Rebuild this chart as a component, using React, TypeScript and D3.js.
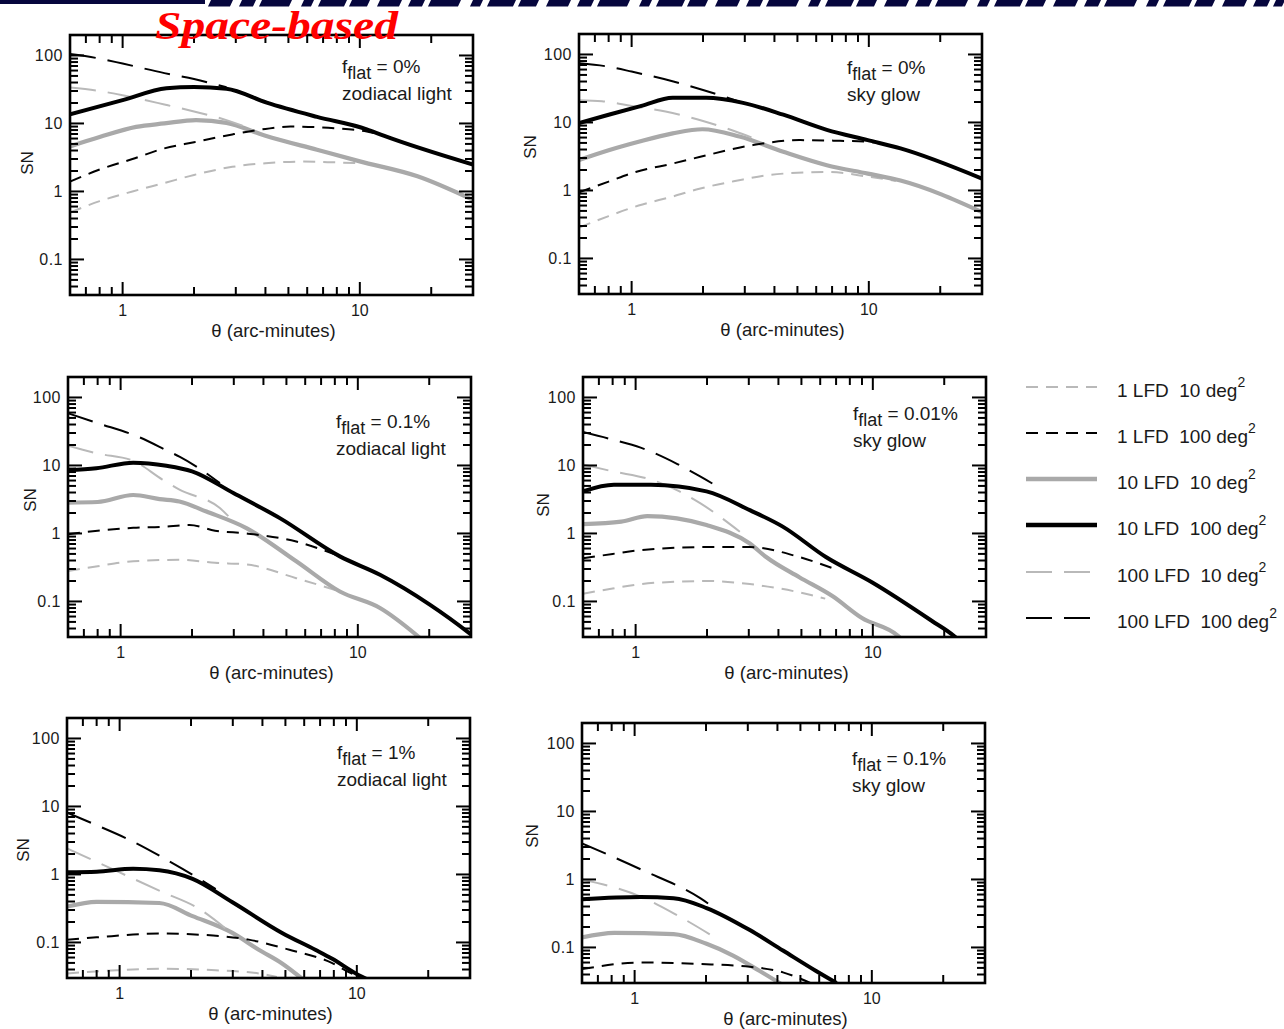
import React from "react";
import * as d3 from "d3";

// ---------- axes ----------
const THETA_DOMAIN: [number, number] = [0.6, 30];
const SN_DOMAIN: [number, number] = [0.03, 200];
const X_MAJOR = [1, 10];
const X_MAJOR_LABELS = ["1", "10"];
const X_MINOR = [0.7, 0.8, 0.9, 2, 3, 4, 5, 6, 7, 8, 9, 20, 30];
const Y_MAJOR = [0.1, 1, 10, 100];
const Y_MAJOR_LABELS = ["0.1", "1", "10", "100"];
const Y_MINOR = [0.03, 0.04, 0.05, 0.06, 0.07, 0.08, 0.09, 0.2, 0.3, 0.4, 0.5, 0.6, 0.7, 0.8, 0.9, 2, 3, 4, 5, 6, 7, 8, 9, 20, 30, 40, 50, 60, 70, 80, 90, 200];

// ---------- legend ----------
const SERIES_NAMES = ["1 LFD", "1 LFD", "10 LFD", "10 LFD", "100 LFD", "100 LFD"];
const SERIES_AREAS = ["10 deg", "100 deg", "10 deg", "100 deg", "10 deg", "100 deg"];

// ---------- panel labels ----------
const FLAT_VALUES = ["0%", "0%", "0.1%", "0.01%", "1%", "0.1%"];
const SOURCES = ["zodiacal light", "sky glow", "zodiacal light", "sky glow", "zodiacal light", "sky glow"];

type Pt = [number, number];

// ---------- panel 1 : f_flat = 0%, zodiacal light ----------
const P1_L1_A10: Pt[] = [[0.6, 0.49], [0.8, 0.72], [1.1, 1.0], [1.5, 1.33], [2, 1.75], [2.9, 2.3], [4, 2.6], [5.6, 2.75], [7.8, 2.68], [10, 2.6]];
const P1_L1_A100: Pt[] = [[0.6, 1.4], [0.8, 2.1], [1.1, 3.0], [1.5, 4.3], [2, 5.3], [2.9, 6.9], [4, 8.3], [5.1, 9.0], [7.8, 8.5], [10.7, 7.6], [13, 6.5]];
const P1_L10_A10: Pt[] = [[0.6, 4.6], [0.8, 6.3], [1.14, 8.9], [1.5, 10], [2.04, 11.2], [2.74, 10.2], [4, 6.6], [6.6, 4.1], [10, 2.77], [17.5, 1.67], [30, 0.75]];
const P1_L10_A100: Pt[] = [[0.6, 13.6], [1, 22], [1.53, 33], [2, 34.5], [2.74, 32.5], [4.05, 20.2], [6.6, 12.5], [10.7, 8.2], [12.6, 6.6], [30, 2.48]];
const P1_L100_A10: Pt[] = [[0.6, 33.7], [0.8, 30], [1, 26], [1.5, 19], [2, 15], [2.74, 11.2], [3.2, 9.3]];
const P1_L100_A100: Pt[] = [[0.6, 105], [0.8, 90], [1, 76], [1.5, 55], [2, 45], [2.74, 34]];

// ---------- panel 2 : f_flat = 0%, sky glow ----------
const P2_L1_A10: Pt[] = [[0.6, 0.285], [0.8, 0.42], [1.07, 0.6], [1.5, 0.82], [1.93, 1.06], [2.8, 1.4], [3.7, 1.67], [5, 1.82], [6.65, 1.87], [9.9, 1.6], [13, 1.38]];
const P2_L1_A100: Pt[] = [[0.6, 0.94], [0.8, 1.35], [1.04, 1.87], [1.5, 2.5], [1.93, 3.1], [3.25, 4.65], [5.1, 5.5], [7.1, 5.4], [9.9, 5.2], [11, 5.0]];
const P2_L10_A10: Pt[] = [[0.6, 2.8], [0.8, 3.9], [1.07, 5.2], [1.49, 6.9], [1.99, 7.95], [2.85, 6.2], [4.36, 3.7], [6.65, 2.35], [9.9, 1.77], [13.6, 1.4], [30, 0.48]];
const P2_L10_A100: Pt[] = [[0.6, 9.8], [0.8, 13], [1.1, 17.5], [1.49, 23], [2.06, 23], [2.95, 19.4], [4.36, 13], [6.65, 7.8], [9.9, 5.5], [13.6, 4.15], [30, 1.49]];
const P2_L100_A10: Pt[] = [[0.6, 21.2], [0.75, 20.5], [1, 17.5], [1.39, 14.5], [2, 10.5], [2.85, 7.0], [3.2, 6.0]];
const P2_L100_A100: Pt[] = [[0.6, 74], [0.8, 66], [1, 56], [1.5, 40], [2, 30], [2.95, 19.4]];

// ---------- panel 3 : f_flat = 0.1%, zodiacal light ----------
const P3_L1_A10: Pt[] = [[0.6, 0.28], [0.8, 0.33], [1.13, 0.39], [1.77, 0.41], [2.5, 0.37], [3.39, 0.35], [5.5, 0.22], [8.4, 0.14]];
const P3_L1_A100: Pt[] = [[0.6, 0.97], [0.8, 1.1], [1.13, 1.21], [1.5, 1.25], [1.95, 1.33], [2.5, 1.1], [3.39, 1.0], [5.5, 0.76], [8.4, 0.46]];
const P3_L10_A10: Pt[] = [[0.6, 2.84], [0.8, 2.9], [1.13, 3.68], [1.46, 3.2], [1.77, 2.95], [2.3, 2.1], [3.39, 1.2], [5.5, 0.39], [8.4, 0.14], [12.4, 0.08], [18.3, 0.029]];
const P3_L10_A100: Pt[] = [[0.6, 8.5], [0.79, 9.1], [1.13, 11], [1.56, 9.9], [2, 8.2], [3, 3.9], [4.69, 1.68], [8.4, 0.46], [12.4, 0.247], [20.1, 0.09], [29.6, 0.034], [31, 0.03]];
const P3_L100_A10: Pt[] = [[0.6, 19.5], [0.8, 15], [1.13, 11.7], [1.5, 6.2], [1.77, 4.4], [2.62, 2.36], [2.9, 1.68]];
const P3_L100_A100: Pt[] = [[0.6, 58.6], [0.8, 42], [1.2, 26], [1.6, 16], [1.77, 13.5], [2.15, 9], [2.62, 5.5]];

// ---------- panel 4 : f_flat = 0.01%, sky glow ----------
const P4_L1_A10: Pt[] = [[0.6, 0.13], [0.8, 0.155], [1.05, 0.18], [1.5, 0.195], [1.99, 0.2], [3.03, 0.18], [4.9, 0.136], [6.3, 0.11]];
const P4_L1_A100: Pt[] = [[0.6, 0.43], [0.8, 0.5], [1.05, 0.57], [1.99, 0.63], [3.03, 0.63], [4.9, 0.45], [6.75, 0.31]];
const P4_L10_A10: Pt[] = [[0.6, 1.37], [0.87, 1.49], [1.12, 1.8], [1.99, 1.33], [3.03, 0.71], [3.55, 0.45], [4.9, 0.227], [6.75, 0.12], [9.0, 0.057], [12.8, 0.031], [13.2, 0.028]];
const P4_L10_A100: Pt[] = [[0.6, 4.16], [0.81, 5.2], [1.16, 5.2], [1.99, 4.16], [3.03, 2.2], [4.17, 1.26], [6.34, 0.45], [9.95, 0.19], [17.7, 0.052], [22, 0.031], [23, 0.027]];
const P4_L100_A10: Pt[] = [[0.6, 10.3], [0.8, 8.2], [1.16, 6.2], [1.5, 4.3], [1.87, 2.79], [2.75, 1.06]];
const P4_L100_A100: Pt[] = [[0.6, 31], [0.8, 24], [1.05, 18.3], [1.5, 10.5], [1.87, 6.9], [2.27, 4.65]];

// ---------- panel 5 : f_flat = 1%, zodiacal light ----------
const P5_L1_A10: Pt[] = [[0.6, 0.035], [0.97, 0.039], [1.57, 0.041], [2.54, 0.039], [3.86, 0.035], [4.6, 0.031]];
const P5_L1_A100: Pt[] = [[0.6, 0.11], [0.8, 0.119], [1.47, 0.135], [2.17, 0.13], [3.5, 0.11], [5.2, 0.078], [7.84, 0.05], [9.2, 0.037], [10, 0.032]];
const P5_L10_A10: Pt[] = [[0.6, 0.337], [0.8, 0.396], [1.47, 0.38], [2.03, 0.244], [2.99, 0.138], [3.86, 0.078], [4.84, 0.049], [5.9, 0.029]];
const P5_L10_A100: Pt[] = [[0.6, 1.08], [0.8, 1.1], [1.14, 1.21], [1.47, 1.15], [2.03, 0.86], [2.99, 0.39], [4.84, 0.138], [6.68, 0.078], [7.84, 0.058], [10.2, 0.033], [11, 0.029]];
const P5_L100_A10: Pt[] = [[0.6, 2.42], [1, 1.07], [1.5, 0.56], [2.17, 0.31], [2.8, 0.16]];
const P5_L100_A100: Pt[] = [[0.6, 8.1], [0.8, 5.3], [1.14, 3.04], [1.6, 1.6], [2.17, 0.86], [2.54, 0.61]];

// ---------- panel 6 : f_flat = 0.1%, sky glow ----------
const P6_L1_A10: Pt[] = [];
const P6_L1_A100: Pt[] = [[0.6, 0.048], [1.06, 0.06], [1.89, 0.057], [3.06, 0.052], [4.22, 0.043], [5.5, 0.03]];
const P6_L10_A10: Pt[] = [[0.6, 0.14], [0.82, 0.164], [1.46, 0.157], [2.01, 0.113], [2.6, 0.076], [3.37, 0.045], [4.15, 0.029]];
const P6_L10_A100: Pt[] = [[0.6, 0.51], [1.06, 0.55], [1.46, 0.53], [2.01, 0.38], [3.06, 0.18], [4.22, 0.09], [5.82, 0.045], [7.1, 0.03]];
const P6_L100_A10: Pt[] = [[0.6, 1.0], [1.06, 0.56], [1.46, 0.318], [2.22, 0.135]];
const P6_L100_A100: Pt[] = [[0.6, 3.4], [1.06, 1.41], [1.89, 0.53], [2.22, 0.36]];

const PANEL_SERIES: Pt[][][] = [
  [P1_L1_A10, P1_L1_A100, P1_L10_A10, P1_L10_A100, P1_L100_A10, P1_L100_A100],
  [P2_L1_A10, P2_L1_A100, P2_L10_A10, P2_L10_A100, P2_L100_A10, P2_L100_A100],
  [P3_L1_A10, P3_L1_A100, P3_L10_A10, P3_L10_A100, P3_L100_A10, P3_L100_A100],
  [P4_L1_A10, P4_L1_A100, P4_L10_A10, P4_L10_A100, P4_L100_A10, P4_L100_A100],
  [P5_L1_A10, P5_L1_A100, P5_L10_A10, P5_L10_A100, P5_L100_A10, P5_L100_A100],
  [P6_L1_A10, P6_L1_A100, P6_L10_A10, P6_L10_A100, P6_L100_A10, P6_L100_A100],
];

// ---------- styles & layout ----------
const LIGHT = "#b9b9b9";
const MID = "#a9a9a9";
const STYLES = [
  { stroke: LIGHT, width: 2, dash: "12 8" },
  { stroke: "#000", width: 2, dash: "12 8" },
  { stroke: MID, width: 4.2, dash: "" },
  { stroke: "#000", width: 4, dash: "" },
  { stroke: LIGHT, width: 2, dash: "26 12" },
  { stroke: "#000", width: 2, dash: "26 12" },
];
const DRAW_ORDER = [0, 2, 4, 1, 5, 3];

const PW = 403;
const PH = 260;
const LAYOUT = [
  { left: 70, top: 35, annDx: 272, annDy: 38, snX: 27, snY: 163 },
  { left: 579, top: 34, annDx: 268, annDy: 40, snX: 530, snY: 147 },
  { left: 68, top: 377, annDx: 268, annDy: 51, snX: 30, snY: 500 },
  { left: 583, top: 377, annDx: 270, annDy: 43, snX: 543, snY: 505 },
  { left: 67, top: 718, annDx: 270, annDy: 41, snX: 23, snY: 850 },
  { left: 582, top: 723, annDx: 270, annDy: 42, snX: 532, snY: 836 },
];

const FONT = "'Liberation Sans', Arial, Helvetica, sans-serif";
const TXT = "#1a1a1a";

function Panel({ idx }: { idx: number }) {
  const L = LAYOUT[idx];
  const x = d3.scaleLog().domain(THETA_DOMAIN).range([0, PW]);
  const y = d3.scaleLog().domain(SN_DOMAIN).range([PH, 0]);
  const line = d3
    .line<Pt>()
    .x((d) => x(d[0]))
    .y((d) => y(d[1]))
    .curve(d3.curveMonotoneX);
  const clipId = `clip-${idx}`;
  const series = PANEL_SERIES[idx];
  return (
    <g transform={`translate(${L.left},${L.top})`}>
      <defs>
        <clipPath id={clipId}>
          <rect x={0} y={0} width={PW} height={PH} />
        </clipPath>
      </defs>
      <g clipPath={`url(#${clipId})`}>
        {DRAW_ORDER.map((si) =>
          series[si].length ? (
            <path
              key={si}
              d={line(series[si]) || ""}
              fill="none"
              stroke={STYLES[si].stroke}
              strokeWidth={STYLES[si].width}
              strokeDasharray={STYLES[si].dash || undefined}
              strokeLinejoin="round"
            />
          ) : null
        )}
      </g>
      {/* ticks */}
      <g stroke="#000" strokeWidth={2}>
        {X_MINOR.filter((v) => v <= THETA_DOMAIN[1]).map((v) => (
          <g key={"xm" + v}>
            <line x1={x(v)} x2={x(v)} y1={PH} y2={PH - 8} />
            <line x1={x(v)} x2={x(v)} y1={0} y2={8} />
          </g>
        ))}
        {X_MAJOR.map((v) => (
          <g key={"xM" + v}>
            <line x1={x(v)} x2={x(v)} y1={PH} y2={PH - 13} />
            <line x1={x(v)} x2={x(v)} y1={0} y2={13} />
          </g>
        ))}
        {Y_MINOR.filter((v) => v >= SN_DOMAIN[0] && v <= SN_DOMAIN[1]).map((v) => (
          <g key={"ym" + v}>
            <line x1={0} x2={8} y1={y(v)} y2={y(v)} />
            <line x1={PW} x2={PW - 8} y1={y(v)} y2={y(v)} />
          </g>
        ))}
        {Y_MAJOR.map((v) => (
          <g key={"yM" + v}>
            <line x1={0} x2={14} y1={y(v)} y2={y(v)} />
            <line x1={PW} x2={PW - 14} y1={y(v)} y2={y(v)} />
          </g>
        ))}
      </g>
      <rect x={0} y={0} width={PW} height={PH} fill="none" stroke="#000" strokeWidth={2.6} />
      {/* tick labels */}
      {X_MAJOR.map((v, i) => (
        <text key={"xl" + v} x={x(v)} y={PH + 21} textAnchor="middle" fontSize={16} fontFamily={FONT} fill={TXT}>
          {X_MAJOR_LABELS[i]}
        </text>
      ))}
      {Y_MAJOR.map((v, i) => (
        <text key={"yl" + v} x={-7} y={y(v) + 6} textAnchor="end" fontSize={16} fontFamily={FONT} fill={TXT} letterSpacing={0.5}>
          {Y_MAJOR_LABELS[i]}
        </text>
      ))}
      <text x={PW / 2 + 2} y={PH + 42} textAnchor="middle" fontSize={18.5} fontFamily={FONT} fill={TXT}>
        θ (arc-minutes)
      </text>
      {/* annotation */}
      <text x={L.annDx} y={L.annDy} fontSize={19} fontFamily={FONT} fill={TXT}>
        f
        <tspan dy={6} fontSize={18}>flat</tspan>
        <tspan dy={-6}>{" = " + FLAT_VALUES[idx]}</tspan>
      </text>
      <text x={L.annDx} y={L.annDy + 27} fontSize={19} fontFamily={FONT} fill={TXT}>
        {SOURCES[idx]}
      </text>
    </g>
  );
}

function Legend() {
  const x0 = 1026;
  const x1 = 1097;
  const ys = [387, 433, 479, 525, 572, 618];
  return (
    <g>
      {ys.map((yy, i) => (
        <g key={i}>
          <line
            x1={x0}
            x2={STYLES[i].dash === "26 12" ? 1090 : x1}
            y1={yy}
            y2={yy}
            stroke={STYLES[i].stroke}
            strokeWidth={STYLES[i].width === 2 ? 2 : 4.5}
            strokeDasharray={STYLES[i].dash || undefined}
          />
          <text x={1117} y={yy + 10} fontSize={19} fontFamily={FONT} fill={TXT} style={{ whiteSpace: "pre" }}>
            {SERIES_NAMES[i] + "  " + SERIES_AREAS[i]}
            <tspan dy={-10} fontSize={14}>2</tspan>
          </text>
        </g>
      ))}
    </g>
  );
}

export default function App() {
  const SN_LABEL = "SN";
  return (
    <svg
      width={1284}
      height={1029}
      viewBox="0 0 1284 1029"
      style={{ position: "absolute", left: 0, top: 0, background: "#fff" }}
    >
      <rect x={0} y={0} width={1284} height={1029} fill="#fff" />
      {/* cropped banner remnants at the very top */}
      <rect x={0} y={0} width={205} height={4} fill="#06063d" />
      <line
        x1={210}
        x2={1284}
        y1={3}
        y2={3}
        stroke="#06063d"
        strokeWidth={7}
        strokeDasharray="22 9 14 6 30 12 10 7 26 5 18 10"
        transform="skewX(-25) translate(1,0)"
      />
      {LAYOUT.map((L, i) => (
        <Panel key={i} idx={i} />
      ))}
      {LAYOUT.map((L, i) => (
        <text
          key={"sn" + i}
          transform={`translate(${L.snX},${L.snY}) rotate(-90)`}
          textAnchor="middle"
          dominantBaseline="central"
          fontSize={17}
          fontFamily={FONT}
          fill={TXT}
        >
          {SN_LABEL}
        </text>
      ))}
      <Legend />
      <text
        x={155}
        y={39}
        fontSize={41}
        fontFamily="'Liberation Serif', 'Times New Roman', serif"
        fontStyle="italic"
        fontWeight="bold"
        fill="#ff0000"
        textLength={243}
        lengthAdjust="spacingAndGlyphs"
      >
        Space-based
      </text>
    </svg>
  );
}
